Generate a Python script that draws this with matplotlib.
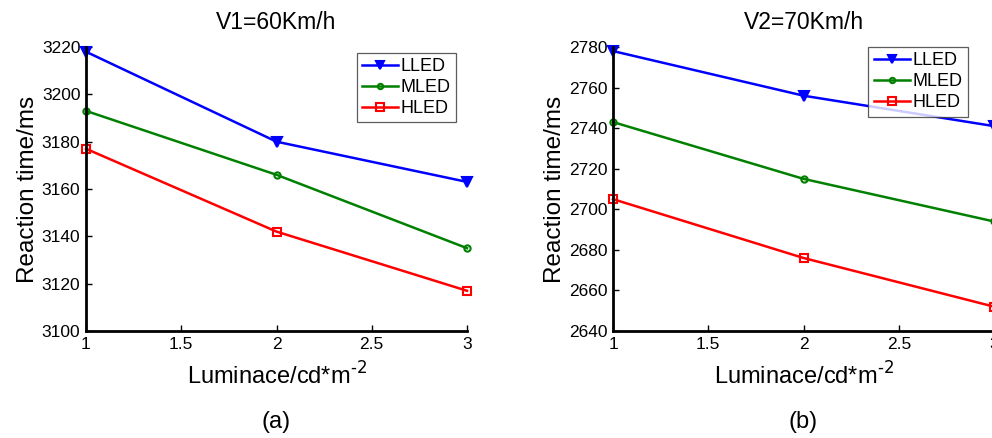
import matplotlib
matplotlib.use("Agg")
import matplotlib.pyplot as plt

plt.rcParams['font.family'] = ['Liberation Sans', 'DejaVu Sans']

lum = [1, 2, 3]
series = ["LLED", "MLED", "HLED"]

# panel (a) V1=60Km/h
v1_lled = [3218, 3180, 3163]
v1_mled = [3193, 3166, 3135]
v1_hled = [3177, 3142, 3117]

# panel (b) V2=70Km/h
v2_lled = [2778, 2756, 2741]
v2_mled = [2743, 2715, 2694]
v2_hled = [2705, 2676, 2652]

colors = ["#0000ff", "#008000", "#ff0000"]
markers = ["v", "o", "s"]
msizes = [6.5, 4.5, 6]

fig = plt.figure(figsize=(9.92, 4.38), dpi=100)


def panel(rect, data, ylim, yticks, title, tag, leg_anchor):
    ax = fig.add_axes(rect)
    for vals, name, c, m, ms in zip(data, series, colors, markers, msizes):
        face = c if m == "v" else "none"
        ax.plot(lum, vals, color=c, lw=1.8, marker=m, ms=ms,
                mfc=face, mec=c, mew=1.5, label=name, clip_on=False)
    ax.set_xlim(1, 3)
    ax.set_ylim(*ylim)
    ax.set_xticks([1, 1.5, 2, 2.5, 3])
    ax.set_xticklabels(["1", "1.5", "2", "2.5", "3"])
    ax.set_yticks(yticks)
    ax.spines['top'].set_visible(False)
    ax.spines['right'].set_visible(False)
    ax.spines['left'].set_linewidth(2)
    ax.spines['bottom'].set_linewidth(2)
    ax.tick_params(direction='in', length=4, width=1, labelsize=12.5, pad=4)
    ax.set_title(title, fontsize=16.5, pad=13)
    ax.set_ylabel("Reaction time/ms", fontsize=17.5, labelpad=2)
    ax.set_xlabel(r"Luminace/cd*m$^{\text{-2}}$", fontsize=17, labelpad=8)
    leg = ax.legend(loc='upper left', bbox_to_anchor=leg_anchor, fontsize=13,
                    frameon=True, fancybox=False, borderpad=0.3,
                    handlelength=2.0, handletextpad=0.15, labelspacing=0.22,
                    borderaxespad=0, markerscale=0.85)
    leg.get_frame().set_edgecolor("#333333")
    leg.get_frame().set_linewidth(0.9)
    ax.text(0.5, -0.32, tag, transform=ax.transAxes, ha='center', va='center',
            fontsize=17)
    return ax


panel([86 / 992, 107 / 438, 381 / 992, 284 / 438],
      [v1_lled, v1_mled, v1_hled], (3100, 3220), range(3100, 3221, 20),
      "V1=60Km/h", "(a)", (0.71, 0.98))
panel([613 / 992, 107 / 438, 381 / 992, 284 / 438],
      [v2_lled, v2_mled, v2_hled], (2640, 2780), range(2640, 2781, 20),
      "V2=70Km/h", "(b)", (0.67, 1.0))

plt.savefig("out.png", dpi=100)
